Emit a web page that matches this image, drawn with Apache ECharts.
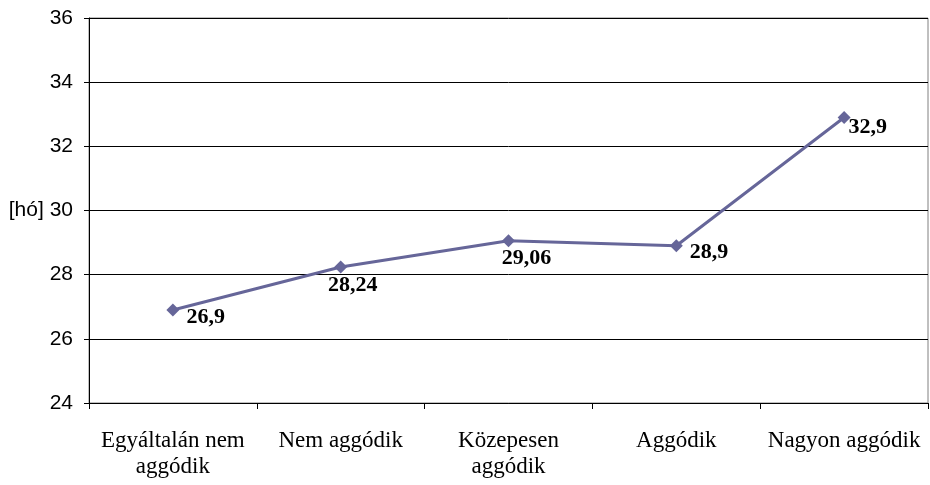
<!DOCTYPE html>
<html>
<head>
<meta charset="utf-8">
<script src="https://cdn.jsdelivr.net/npm/echarts@6/dist/echarts.min.js"></script>
<style>
    html, body { margin: 0; padding: 0; background: #fff; }
    #chart { width: 930px; height: 485px; }
</style>
</head>
<body>
<div id="chart"></div>
<script>
// kategóriák és értékek (hónap)
var categories = ['Egyáltalán nem\naggódik', 'Nem aggódik', 'Közepesen\naggódik', 'Aggódik', 'Nagyon aggódik'];
var values = [26.9, 28.24, 29.06, 28.9, 32.9];
var yTicks = [24, 26, 28, 30, 32, 34, 36];

// címke elhelyezés pontonként
var labelPos = [
    { position: 'right', distance: 7, offset: [0, 7] },
    { position: 'bottom', distance: 1, offset: [12, 0] },
    { position: 'bottom', distance: 0, offset: [18, 0] },
    { position: 'right', distance: 7, offset: [0, 7] },
    { position: 'right', distance: 0, offset: [-2, 10] }
];

var chart = echarts.init(document.getElementById('chart'));

var seriesData = values.map(function (v, i) {
    return { value: v, label: labelPos[i] };
});

var option = {
    animation: false,
    grid: {
        left: 89,
        right: 2,
        top: 18,
        bottom: 82,
        show: true,
        borderColor: '#808080',
        borderWidth: 1
    },
    xAxis: {
        type: 'category',
        data: categories,
        boundaryGap: true,
        axisLine: { lineStyle: { color: '#000', width: 1 } },
        axisTick: { show: true, length: 6, lineStyle: { color: '#000' } },
        axisLabel: {
            interval: 0,
            margin: 25,
            color: '#000',
            fontFamily: 'Liberation Serif',
            fontSize: 23,
            lineHeight: 26
        }
    },
    yAxis: {
        type: 'value',
        min: yTicks[0],
        max: yTicks[yTicks.length - 1],
        interval: 2,
        axisLine: { show: true, lineStyle: { color: '#000' } },
        axisTick: { show: true, length: 5, lineStyle: { color: '#000' } },
        splitLine: { show: true, lineStyle: { color: '#000', width: 1 } },
        axisLabel: {
            margin: 16,
            color: '#000',
            fontFamily: 'Liberation Sans',
            fontSize: 21,
            formatter: function (v) {
                return v === 30 ? '[hó] ' + v : String(v);
            }
        }
    },
    series: [{
        type: 'line',
        data: seriesData,
        symbol: 'diamond',
        symbolSize: 13,
        lineStyle: { color: '#666699', width: 3 },
        itemStyle: { color: '#666699' },
        label: {
            show: true,
            color: '#000',
            fontFamily: 'Liberation Serif',
            fontWeight: 'bold',
            fontSize: 22,
            formatter: function (p) {
                return String(p.value).replace('.', ',');
            }
        }
    }]
};

chart.setOption(option);
</script>
</body>
</html>
